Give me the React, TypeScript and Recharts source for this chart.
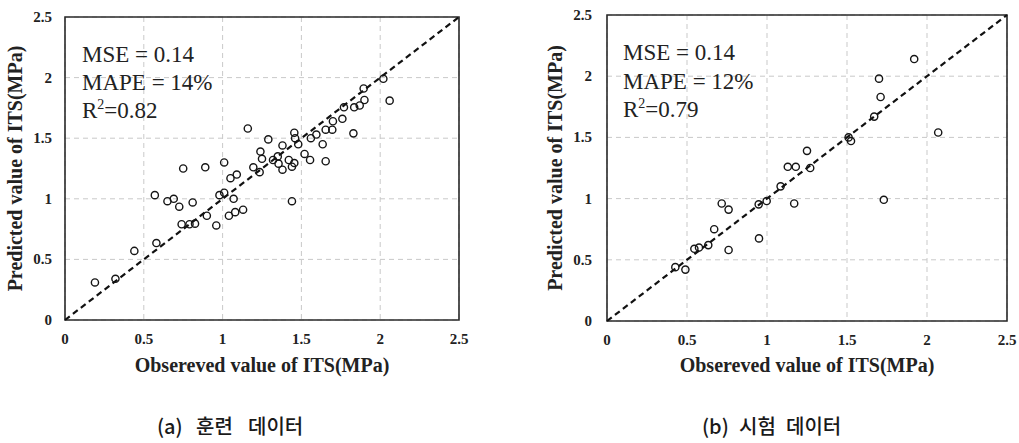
import React from 'react';
import {
  ScatterChart,
  Scatter,
  XAxis,
  YAxis,
  CartesianGrid,
  ReferenceLine,
  ReferenceArea,
} from 'recharts';

// ---- data ----
const axisTicks = [0, 0.5, 1, 1.5, 2, 2.5];

const trainObserved = [
  0.19, 0.32, 0.44, 0.58, 0.57, 0.65, 0.69, 0.725, 0.81, 0.74, 0.79, 0.825, 0.9, 0.96,
  0.98, 1.01, 1.07, 1.04, 1.08, 1.13, 1.16, 0.75, 0.89, 1.01, 1.05, 1.09, 1.29, 1.24,
  1.25, 1.195, 1.235, 1.38, 1.32, 1.35, 1.355, 1.38, 1.42, 1.44, 1.455, 1.455, 1.46,
  1.48, 1.44, 1.52, 1.555, 1.56, 1.595, 1.635, 1.654, 1.654, 1.696, 1.7, 1.76, 1.77,
  1.83, 1.835, 1.87, 1.9, 1.895, 2.02, 2.06,
];
const trainPredicted = [
  0.31, 0.34, 0.57, 0.635, 1.03, 0.98, 1.0, 0.935, 0.97, 0.79, 0.79, 0.795, 0.86, 0.78,
  1.03, 1.05, 1.0, 0.86, 0.89, 0.91, 1.58, 1.25, 1.26, 1.3, 1.17, 1.2, 1.49, 1.39,
  1.33, 1.26, 1.22, 1.44, 1.32, 1.35, 1.29, 1.24, 1.32, 1.265, 1.295, 1.545, 1.5,
  1.45, 0.98, 1.37, 1.32, 1.5, 1.53, 1.45, 1.31, 1.57, 1.57, 1.64, 1.66, 1.755,
  1.54, 1.755, 1.77, 1.815, 1.91, 1.99, 1.81,
];

const testObserved = [
  0.427, 0.49, 0.546, 0.575, 0.633, 0.67, 0.717, 0.76, 0.76, 0.948, 0.998, 0.95, 1.085,
  1.92, 1.7, 1.71, 1.67, 2.07, 1.51, 1.525, 1.25, 1.13, 1.18, 1.27, 1.73, 1.17,
];
const testPredicted = [
  0.44, 0.42, 0.59, 0.6, 0.62, 0.75, 0.96, 0.91, 0.58, 0.953, 0.98, 0.675, 1.1,
  2.14, 1.98, 1.83, 1.67, 1.54, 1.5, 1.47, 1.39, 1.26, 1.26, 1.25, 0.99, 0.96,
];

const statsA = ['MSE = 0.14', 'MAPE = 14%', '0.82'];
const statsB = ['MSE = 0.14', 'MAPE = 12%', '0.79'];

const xTitle = 'Obsereved value of ITS(MPa)';
const yTitle = 'Predicted value of ITS(MPa)';

const captionA = ['(a)', '훈련', '데이터'];
const captionB = ['(b)', '시험', '데이터'];

const trainData = trainObserved.map((x, i) => ({ x, y: trainPredicted[i] }));
const testData = testObserved.map((x, i) => ({ x, y: testPredicted[i] }));

const SERIF = '"Liberation Serif", "Times New Roman", serif';

const OpenCircle = (props: any) => {
  const { cx, cy } = props;
  if (cx == null || cy == null) return null;
  return <circle cx={cx} cy={cy} r={3.6} fill="none" stroke="#151515" strokeWidth={1.4} />;
};

const XTick = (props: any) => {
  const { x, y, payload } = props;
  return (
    <text x={x} y={y} dy={10} textAnchor="middle" fontFamily={SERIF} fontWeight={700} fontSize={15} fill="#222">
      {String(payload.value)}
    </text>
  );
};

const YTick = (props: any) => {
  const { x, y, payload } = props;
  return (
    <text x={x} y={y} dy={5} textAnchor="end" fontFamily={SERIF} fontWeight={700} fontSize={15} fill="#222">
      {String(payload.value)}
    </text>
  );
};

type PanelProps = {
  data: { x: number; y: number }[];
  width: number;
  height: number;
  margin: { top: number; right: number; bottom: number; left: number };
  yAxisWidth: number;
  xAxisHeight: number;
  yTickMargin: number;
  xTickMargin: number;
};

const Panel = ({ data, width, height, margin, yAxisWidth, xAxisHeight, yTickMargin, xTickMargin }: PanelProps) => (
  <ScatterChart width={width} height={height} margin={margin}>
    <CartesianGrid stroke="#c9c9c9" strokeDasharray="5 4" strokeWidth={1} />
    <XAxis
      type="number"
      dataKey="x"
      domain={[0, 2.5]}
      ticks={axisTicks}
      allowDataOverflow
      axisLine={false}
      tickLine={false}
      tickSize={0}
      tickMargin={xTickMargin}
      height={xAxisHeight}
      tick={<XTick />}
      interval={0}
      label={{
        value: xTitle,
        position: 'insideBottom',
        offset: 8,
        fontFamily: SERIF,
        fontWeight: 700,
        fontSize: 20,
        fill: '#222',
      }}
    />
    <YAxis
      type="number"
      dataKey="y"
      domain={[0, 2.5]}
      ticks={axisTicks}
      allowDataOverflow
      axisLine={false}
      tickLine={false}
      tickSize={0}
      tickMargin={yTickMargin}
      width={yAxisWidth}
      tick={<YTick />}
      interval={0}
      label={{
        value: yTitle,
        angle: -90,
        position: 'insideLeft',
        offset: 15,
        fontFamily: SERIF,
        fontWeight: 700,
        fontSize: 20,
        fill: '#222',
        style: { textAnchor: 'middle' },
      }}
    />
    <ReferenceArea x1={0} x2={2.5} y1={0} y2={2.5} fill="none" fillOpacity={0} stroke="#2a2a2a" strokeWidth={1.6} />
    <ReferenceLine
      segment={[
        { x: 0, y: 0 },
        { x: 2.5, y: 2.5 },
      ]}
      stroke="#111"
      strokeWidth={2.2}
      strokeDasharray="6 4"
    />
    <Scatter data={data} shape={OpenCircle} isAnimationActive={false} />
  </ScatterChart>
);

const Stats = ({ x, lines, ys }: { x: number; lines: string[]; ys: number[] }) => (
  <g fontFamily={SERIF} fontSize={23} fill="#222">
    <text x={x} y={ys[0]}>{lines[0]}</text>
    <text x={x} y={ys[1]}>{lines[1]}</text>
    <text x={x} y={ys[2]}>
      R<tspan fontSize={14} dy={-9}>2</tspan>
      <tspan dy={9}>={lines[2]}</tspan>
    </text>
  </g>
);

const Caption = ({ parts, xs, y }: { parts: string[]; xs: number[]; y: number }) => (
  <text y={y} fontFamily='"Noto Sans CJK KR", "Noto Sans", sans-serif' fontSize={20} fontWeight={500} fill="#1a1a1a">
    {parts.map((p, i) => (
      <tspan key={i} x={xs[i]}>
        {p}
      </tspan>
    ))}
  </text>
);

export default function App() {
  return (
    <div style={{ position: 'absolute', left: 0, top: 0, width: 1019, height: 443, background: '#fff' }}>
      <div style={{ position: 'absolute', left: 0, top: 0 }}>
        <Panel
          data={trainData}
          width={480}
          height={380}
          margin={{ top: 17, right: 21, bottom: 0, left: 0 }}
          yAxisWidth={65}
          xAxisHeight={60}
          yTickMargin={13}
          xTickMargin={14}
        />
      </div>
      <div style={{ position: 'absolute', left: 540, top: 0 }}>
        <Panel
          data={testData}
          width={479}
          height={380}
          margin={{ top: 15, right: 12, bottom: 0, left: 0 }}
          yAxisWidth={67}
          xAxisHeight={59}
          yTickMargin={15}
          xTickMargin={14}
        />
      </div>
      <svg
        width={1019}
        height={443}
        style={{ position: 'absolute', left: 0, top: 0, pointerEvents: 'none' }}
      >
        <Stats x={82} lines={statsA} ys={[62, 90, 118]} />
        <Stats x={623} lines={statsB} ys={[60, 89, 117]} />
        <Caption parts={captionA} xs={[157, 196, 248]} y={434} />
        <Caption parts={captionB} xs={[702, 739, 786]} y={434} />
      </svg>
    </div>
  );
}
